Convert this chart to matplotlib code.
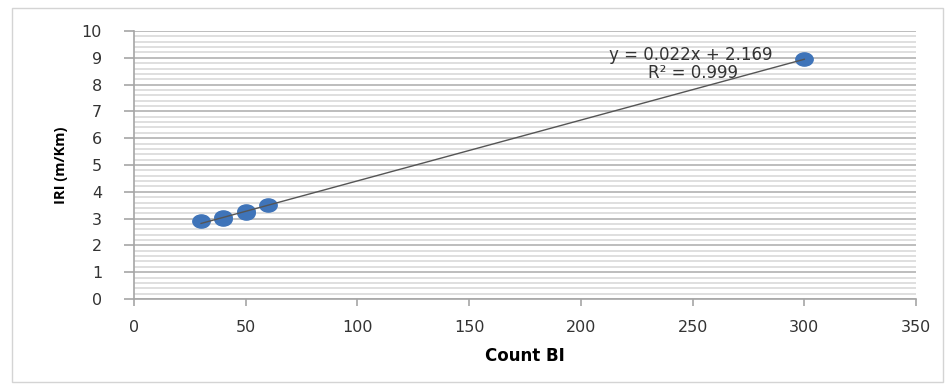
import numpy as np
import matplotlib
matplotlib.use("Agg")
import matplotlib.pyplot as plt
from matplotlib.path import Path
from matplotlib.patches import Rectangle
from matplotlib.ticker import MultipleLocator

# Count BI vs IRI readings
count_bi = [30, 40, 40, 50, 50, 60, 300]
iri = [2.9, 3.0, 3.05, 3.2, 3.3, 3.5, 8.95]

eq_text = "y = 0.022x + 2.169"
r2_text = "R² = 0.999"

x_ticks = [0, 50, 100, 150, 200, 250, 300, 350]
y_ticks = list(range(0, 11))

BLUE = "#3f74b9"
FONT = "DejaVu Sans"
LABEL_FONT = "Open Sans"

fig = plt.figure(figsize=(9.49, 3.90), dpi=100)

# light frame around the whole chart, like the spreadsheet chart area
fig.patches.append(Rectangle((12 / 949, 1 - 382 / 390), (943 - 12) / 949,
                             (382 - 8) / 390, transform=fig.transFigure,
                             fill=False, edgecolor="#d4d4d4", linewidth=1.0))

ax = fig.add_axes([134 / 949, 1 - 299 / 390, (916 - 134) / 949, (299 - 31) / 390])

# squashed circle marker (the original image is stretched horizontally)
circ = Path.unit_circle()
ellipse = Path(circ.vertices * np.array([1.0, 0.76]), circ.codes)

ax.plot(count_bi, iri, linestyle="none", marker=ellipse, markersize=12.5,
        color=BLUE, markeredgecolor=BLUE, zorder=3)

# linear trendline across the data range
slope, intercept = np.polyfit(count_bi, iri, 1)
xs = np.array([min(count_bi), max(count_bi)])
ax.plot(xs, slope * xs + intercept, color="#555555", linewidth=1.0, zorder=4)

ax.text(249, 9.1, eq_text, ha="center", va="center", fontsize=12,
        family=FONT, color="#333333")
ax.text(250, 8.43, r2_text, ha="center", va="center", fontsize=12,
        family=FONT, color="#333333")

ax.set_xlim(0, 350)
ax.set_ylim(0, 10)
ax.set_xticks(x_ticks)
ax.set_yticks(y_ticks)
ax.yaxis.set_minor_locator(MultipleLocator(0.2))

ax.grid(True, axis="y", which="major", color="#b8b8b8", linewidth=1.3)
ax.grid(True, axis="y", which="minor", color="#dcdcdc", linewidth=1.3)
ax.set_axisbelow(True)

for side in ("top", "right"):
    ax.spines[side].set_visible(False)
for side in ("left", "bottom"):
    ax.spines[side].set_color("#a6a6a6")
    ax.spines[side].set_linewidth(1.2)

ax.tick_params(axis="x", which="major", length=5, width=1.2, color="#a6a6a6",
               pad=10, labelsize=11.5, labelcolor="#333333")
ax.tick_params(axis="y", which="major", length=7, width=1.2, color="#a6a6a6",
               pad=16, labelsize=11.5, labelcolor="#333333")
ax.tick_params(axis="y", which="minor", length=0)
for lab in ax.get_xticklabels() + ax.get_yticklabels():
    lab.set_family(FONT)

ax.set_xlabel("Count BI", fontsize=12, fontweight="bold", family=FONT,
              labelpad=9)
ax.set_ylabel("IRI (m/Km)", fontsize=10.5, fontweight="bold", family=LABEL_FONT,
              labelpad=10)

fig.savefig("out.png", dpi=100)
